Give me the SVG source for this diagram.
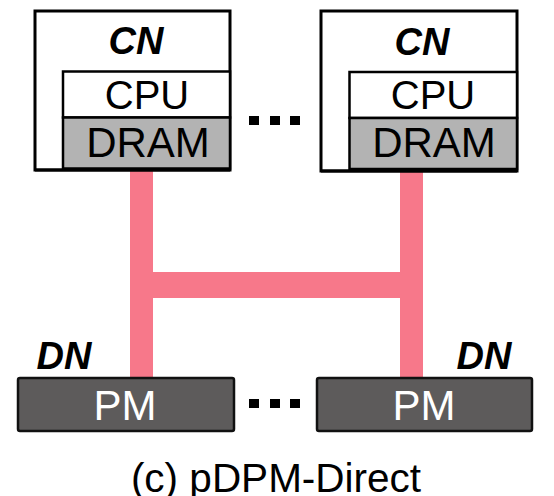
<svg xmlns="http://www.w3.org/2000/svg" width="554" height="496" viewBox="0 0 554 496">
<style>
.t{font-family:"Liberation Sans",Arial,Helvetica,sans-serif;text-anchor:middle}
.lbl{font-weight:bold;font-style:italic;font-size:38px;fill:#000}
.big{font-size:40px;fill:#000}
.dr{font-size:42px}
.pmt{font-size:42px;fill:#fff}
.outer{fill:#fff;stroke:#000;stroke-width:3}
.cpu{fill:#fff;stroke:#000;stroke-width:2.5}
.dram{fill:#b3b3b3;stroke:#000;stroke-width:2.5}
.pm{fill:#5d5b5b;stroke:#111;stroke-width:2.5}
.dot{fill:#000}
.link{fill:#f7788a}
</style>
<g id="connectors">
<rect class="link" x="130" y="170" width="23" height="208"/>
<rect class="link" x="400" y="170" width="23" height="208"/>
<rect class="link" x="130" y="272" width="293" height="26"/>
</g>
<g id="cn1">
<rect class="outer" x="35" y="11" width="195" height="159"/>
<rect class="cpu" x="63" y="71.5" width="167" height="46"/>
<rect class="dram" x="63" y="117.5" width="167" height="51"/>
<line x1="35" y1="170" x2="230" y2="170" stroke="#000" stroke-width="3"/>
<text class="t lbl" x="136" y="54">CN</text>
<text class="t big" x="147" y="109">CPU</text>
<text class="t big dr" x="148" y="157">DRAM</text>
</g>
<g id="cn2">
<rect class="outer" x="321" y="11" width="196" height="160"/>
<rect class="cpu" x="349.5" y="72" width="167.5" height="46"/>
<rect class="dram" x="349.5" y="118" width="167.5" height="51"/>
<line x1="321" y1="171" x2="517" y2="171" stroke="#000" stroke-width="3"/>
<text class="t lbl" x="422" y="55">CN</text>
<text class="t big" x="433" y="109">CPU</text>
<text class="t big dr" x="434" y="157">DRAM</text>
</g>
<g id="dots-top">
<rect class="dot" x="249" y="116" width="10" height="9"/>
<rect class="dot" x="270" y="116" width="10" height="9"/>
<rect class="dot" x="290" y="116" width="10" height="9"/>
</g>
<g id="dn1">
<text class="t lbl" x="64" y="369">DN</text>
<rect class="pm" x="18" y="378" width="216" height="53" rx="2"/>
<text class="t pmt" x="125" y="420">PM</text>
</g>
<g id="dn2">
<text class="t lbl" x="484" y="369">DN</text>
<rect class="pm" x="317" y="378" width="215" height="53" rx="2"/>
<text class="t pmt" x="424" y="420">PM</text>
</g>
<g id="dots-bottom">
<rect class="dot" x="249" y="399" width="10" height="9"/>
<rect class="dot" x="270" y="399" width="10" height="9"/>
<rect class="dot" x="290" y="399" width="10" height="9"/>
</g>
<text class="t big" x="276" y="492" style="font-size:40.5px">(c) pDPM-Direct</text>
</svg>
